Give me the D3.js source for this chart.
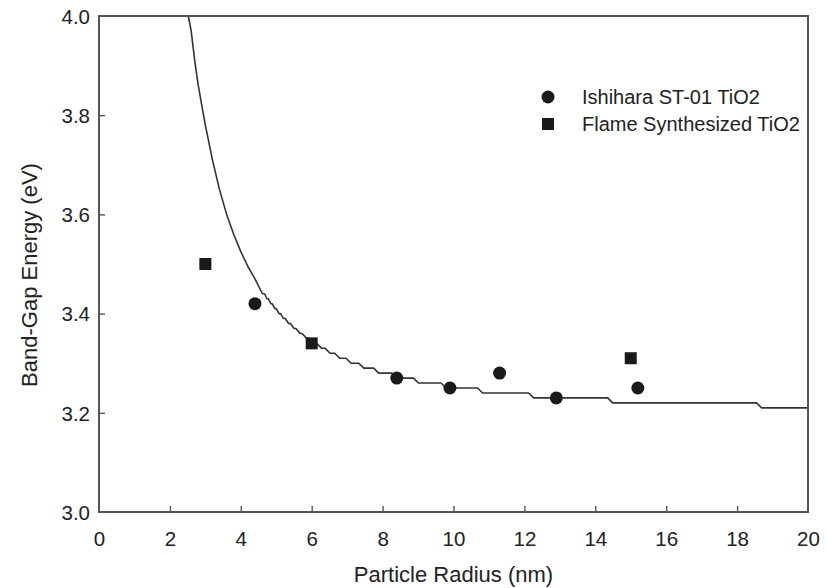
<!DOCTYPE html>
<html><head><meta charset="utf-8">
<script src="https://cdn.jsdelivr.net/npm/d3@7"></script>
<style>body{margin:0;background:#fff}</style>
</head><body><svg id="c" width="826" height="588"></svg>
<script>
// Data
const xTicks = [0,2,4,6,8,10,12,14,16,18,20];
const yTicks = [3.0,3.2,3.4,3.6,3.8,4.0];
const yTickLabels = ["3.0","3.2","3.4","3.6","3.8","4.0"];

const ishiharaR = [4.4, 8.4, 9.9, 11.3, 12.9, 15.2];
const ishiharaE = [3.42, 3.27, 3.25, 3.28, 3.23, 3.25];

const flameR = [3.0, 6.0, 15.0];
const flameE = [3.50, 3.34, 3.31];

// smooth upper part of the model curve
const smoothR = [2.52, 2.60, 2.70, 2.80, 2.90, 3.00, 3.20, 3.40, 3.60, 3.80, 4.00, 4.20, 4.40, 4.61];
const smoothE = [4.00, 3.97, 3.91, 3.86, 3.82, 3.78, 3.71, 3.65, 3.60, 3.56, 3.525, 3.495, 3.47, 3.44];

// stepped lower part: start radius of each 0.01 eV level
const stepStartR = [4.61,4.70,4.81,4.92,5.04,5.16,5.30,5.45,5.61,5.79,5.99,6.21,6.45,6.72,7.04,7.40,7.82,8.33,8.94,9.72,10.75,12.19,14.42,18.62];
const stepLevel  = [3.44,3.43,3.42,3.41,3.40,3.39,3.38,3.37,3.36,3.35,3.34,3.33,3.32,3.31,3.30,3.29,3.28,3.27,3.26,3.25,3.24,3.23,3.22,3.21];
const stepEndR = 20;

const legendLabels = ["Ishihara ST-01 TiO2", "Flame Synthesized TiO2"];

const svg = d3.select("#c");
const L = 99, R = 808, T = 16, B = 512;
const x = d3.scaleLinear().domain([0,20]).range([L,R]);
const y = d3.scaleLinear().domain([3.0,4.0]).range([B,T]);
const font = "Liberation Sans, Arial, sans-serif";
const axisCol = "#555";

// model curve
const pts = smoothR.map((r,i)=>[x(r), y(smoothE[i])]);
const slant = 2.5;
stepStartR.forEach((r,i)=>{
  const end = i < stepStartR.length-1 ? stepStartR[i+1] : stepEndR;
  const x0 = x(r), x1 = x(end);
  const yy = y(stepLevel[i]);
  if (i>0) pts.push([x0 + Math.min(slant,(x1-x0)/3), yy]);
  if (i < stepStartR.length-1) pts.push([x1 - Math.min(slant,(x1-x0)/3), yy]);
  else pts.push([x1, yy]);
});
svg.append("path").attr("d", d3.line()(pts))
  .attr("fill","none").attr("stroke","#333").attr("stroke-width",1.6)
  .attr("stroke-linejoin","round");

// axes
const gx = svg.append("g").attr("transform",`translate(0,${B})`)
  .call(d3.axisBottom(x).tickValues(xTicks).tickSize(-6).tickPadding(19).tickFormat(d3.format("d")));
const gy = svg.append("g").attr("transform",`translate(${L},0)`)
  .call(d3.axisLeft(y).tickValues(yTicks).tickSize(-6).tickPadding(9).tickFormat((d,i)=>yTickLabels[i]));
[gx,gy].forEach(g=>{
  g.select(".domain").remove();
  g.selectAll(".tick line").attr("stroke",axisCol).attr("stroke-width",1.4);
  g.selectAll(".tick text").attr("font-family",font).attr("font-size",20.5).attr("fill","#222");
});
gx.selectAll(".tick").filter(d=>d===0||d===20).select("line").remove();
gy.selectAll(".tick").filter(d=>d===3.0||d===4.0).select("line").remove();
gy.selectAll(".tick text").attr("dy","0.36em");

svg.append("rect").attr("x",L).attr("y",T).attr("width",R-L).attr("height",B-T)
  .attr("fill","none").attr("stroke",axisCol).attr("stroke-width",2);

// markers
svg.append("g").selectAll("circle").data(ishiharaR).join("circle")
  .attr("cx",(d)=>x(d)).attr("cy",(d,i)=>y(ishiharaE[i])).attr("r",6.5).attr("fill","#1a1a1a");
const sq = 12;
svg.append("g").selectAll("rect").data(flameR).join("rect")
  .attr("x",d=>x(d)-sq/2).attr("y",(d,i)=>y(flameE[i])-sq/2).attr("width",sq).attr("height",sq).attr("fill","#1a1a1a");

// legend
const lg = svg.append("g");
lg.append("circle").attr("cx",548).attr("cy",97).attr("r",6.5).attr("fill","#1a1a1a");
lg.append("rect").attr("x",548-sq/2).attr("y",124-sq/2).attr("width",sq).attr("height",sq).attr("fill","#1a1a1a");
legendLabels.forEach((t,i)=>{
  lg.append("text").attr("x",582).attr("y",97+27*i).attr("dy","0.35em")
    .attr("font-family",font).attr("font-size",20).attr("fill","#222").text(t);
});

// titles
svg.append("text").attr("x",(L+R)/2).attr("y",582).attr("text-anchor","middle")
  .attr("font-family",font).attr("font-size",22).attr("fill","#222").text("Particle Radius (nm)");
svg.append("text").attr("transform",`translate(37,${(T+B)/2+11}) rotate(-90)`).attr("text-anchor","middle")
  .attr("font-family",font).attr("font-size",22).attr("fill","#222").text("Band-Gap Energy (eV)");
</script></body></html>
